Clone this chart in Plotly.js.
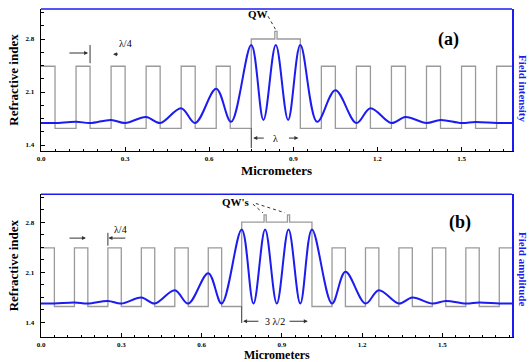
<!DOCTYPE html>
<html><head><meta charset="utf-8">
<script src="https://cdn.plot.ly/plotly-3.0.1.min.js"></script>
<style>html,body{margin:0;padding:0;background:#fff}#plot{width:530px;height:362px}</style>
</head><body><div id="plot"></div>
<script>
// ---- Panel (a): refractive index profile (step boundaries, micrometers) ----
var nxA = [0,0.05,0.125,0.175,0.25,0.3,0.375,0.425,0.5,0.55,0.625,0.675,0.75,0.834,0.842,0.925,1.0,1.05,1.125,1.175,1.25,1.3,1.375,1.425,1.5,1.55,1.625,1.68];
var nvA = [2.44,1.62,2.44,1.62,2.44,1.62,2.44,1.62,2.44,1.62,2.44,1.62,2.8,2.9,2.8,1.62,2.44,1.62,2.44,1.62,2.44,1.62,2.44,1.62,2.44,1.62,2.44,2.44];
// ---- Panel (a): field intensity (extrema) ----
var fxA = [0,0.05,0.125,0.175,0.25,0.3,0.375,0.425,0.5,0.55,0.625,0.678,0.75,0.7935,0.8375,0.8815,0.925,0.985,1.05,1.125,1.175,1.25,1.3,1.375,1.425,1.5,1.55,1.625,1.68];
var fyA = [0,0,0.017,0,0.04,0,0.077,0,0.19,0,0.44,0.015,1.0,0.04,1.0,0.04,1.0,0.015,0.42,0,0.19,0,0.077,0,0.04,0,0.013,0,0];
// ---- Panel (b): refractive index profile ----
var nxB = [0,0.05,0.125,0.175,0.25,0.3,0.375,0.425,0.5,0.55,0.625,0.675,0.75,0.8335,0.8415,0.921,0.929,1.0125,1.0875,1.1375,1.2125,1.2625,1.3375,1.3875,1.4625,1.5125,1.5875,1.6375,1.7125,1.76];
var nvB = [2.44,1.62,2.44,1.62,2.44,1.62,2.44,1.62,2.44,1.62,2.44,1.62,2.8,2.9,2.8,2.9,2.8,1.62,2.44,1.62,2.44,1.62,2.44,1.62,2.44,1.62,2.44,1.62,2.44,2.44];
// ---- Panel (b): field amplitude ----
var fxB = [0,0.05,0.125,0.175,0.25,0.3,0.375,0.425,0.5,0.55,0.625,0.675,0.75,0.794,0.8375,0.881,0.925,0.969,1.0125,1.0875,1.1375,1.2125,1.2625,1.3375,1.3875,1.4625,1.5125,1.5875,1.6375,1.7125,1.76];
var fyB = [0,0,0.014,0,0.035,0,0.081,0,0.18,0,0.41,0,1.0,0,1.0,0,1.0,0,1.0,0,0.43,0,0.18,0,0.081,0,0.035,0,0.014,0,0];
// ---- ticks / labels ----
var xTickStep = 0.3, xMinorStep = 0.05;
var yTickVals = [1.4,2.1,2.8];
var yTickText = ['1.4','2.1','2.8'];
var panelLabels = ['(a)','(b)'];
var xTitle = 'Micrometers';
var yTitle = 'Refractive index';
var y2Titles = ['Field intensity','Field amplitude'];

var SERIF = 'Liberation Serif, Times New Roman, serif';
var GRAY = '#9a9a9a', BLUE = '#1c1cf0';

var traces = [
  {x:nxA, y:nvA, xaxis:'x', yaxis:'y', mode:'lines', line:{shape:'hv', color:GRAY, width:1.3}, hoverinfo:'skip'},
  {x:fxA, y:fyA, xaxis:'x', yaxis:'y2', mode:'lines', line:{shape:'spline', smoothing:1, color:BLUE, width:2}, hoverinfo:'skip'},
  {x:nxB, y:nvB, xaxis:'x2', yaxis:'y3', mode:'lines', line:{shape:'hv', color:GRAY, width:1.3}, hoverinfo:'skip'},
  {x:fxB, y:fyB, xaxis:'x2', yaxis:'y4', mode:'lines', line:{shape:'spline', smoothing:1, color:BLUE, width:2}, hoverinfo:'skip'}
];

function xAx(anchor, maxX, withTitle){
  var a = {anchor:anchor, domain:[0,1], range:[0,maxX], tick0:0, dtick:xTickStep, tickformat:'.1f',
    ticks:'inside', ticklen:4, tickwidth:1, tickcolor:'#000',
    minor:{ticks:'inside', dtick:xMinorStep, ticklen:2.5, tickcolor:'#000'},
    showline:true, linecolor:'#000', linewidth:1.3, showgrid:false, zeroline:false,
    tickfont:{family:SERIF, size:7, color:'#000', weight:'bold'}};
  if (withTitle) a.title = {text:xTitle, font:{family:SERIF, size:13, color:'#000', weight:'bold'}, standoff:4};
  return a;
}
function yAx(anchor, rng, dom){
  return {anchor:anchor, domain:dom, range:rng, tickvals:yTickVals, ticktext:yTickText,
    ticks:'inside', ticklen:4, tickwidth:1, tickcolor:'#000',
    minor:{ticks:'inside', tickvals:[1.575,1.75,1.925,2.275,2.45,2.625,2.975,3.15], ticklen:2.5, tickcolor:'#000'},
    showline:true, linecolor:'#000', linewidth:1.3, showgrid:false, zeroline:false, ticklabelstandoff:4,
    tickfont:{family:SERIF, size:7, color:'#000', weight:'bold'},
    title:{text:yTitle, font:{family:SERIF, size:13, color:'#000', weight:'bold'}, standoff:4}};
}
function y2Ax(over, rng){
  return {overlaying:over, side:'right', range:rng, showline:true, linecolor:BLUE, linewidth:1.5,
    ticks:'', showticklabels:false, showgrid:false, zeroline:false};
}

var layout = {
  width:530, height:362, margin:{l:41, r:18, t:9, b:25},
  paper_bgcolor:'#fff', plot_bgcolor:'#fff', showlegend:false,
  xaxis: xAx('y', 1.68, true),
  yaxis: yAx('x', [1.321, 3.196], [0.567, 1]),
  yaxis2: y2Ax('y', [-0.359, 1.4615]),
  xaxis2: xAx('y3', 1.76, false),
  yaxis3: yAx('x2', [1.194, 3.188], [0, 0.435]),
  yaxis4: y2Ax('y3', [-0.451, 1.473]),
  shapes: [
    {type:'line', xref:'x domain', yref:'y domain', x0:0, x1:1, y0:1, y1:1, line:{color:BLUE, width:1.5}},
    {type:'line', xref:'x2 domain', yref:'y3 domain', x0:0, x1:1, y0:1, y1:1, line:{color:BLUE, width:1.5}},
    // lambda marker (a)
    {type:'line', xref:'x', yref:'y', x0:0.75, x1:0.75, y0:1.62, y1:1.36, line:{color:'#333', width:1}},
    // lambda/4 bar (a)
    {type:'line', xref:'x', yref:'y', x0:0.175, x1:0.175, y0:2.72, y1:2.48, line:{color:'#333', width:1}},
    // 3 lambda/2 marker (b)
    {type:'line', xref:'x2', yref:'y3', x0:0.75, x1:0.75, y0:1.62, y1:1.39, line:{color:'#333', width:1}},
    // lambda/4 bar (b)
    {type:'line', xref:'x2', yref:'y3', x0:0.25, x1:0.25, y0:2.65, y1:2.47, line:{color:'#333', width:1}},
    // QW leaders
    {type:'line', xref:'x', yref:'y', x0:0.81, y0:3.1, x1:0.836, y1:2.93, line:{color:'#333', width:1, dash:'dot'}},
    {type:'line', xref:'x2', yref:'y3', x0:0.792, y0:3.05, x1:0.829, y1:2.93, line:{color:'#333', width:1, dash:'dot'}},
    {type:'line', xref:'x2', yref:'y3', x0:0.803, y0:3.06, x1:0.911, y1:2.93, line:{color:'#333', width:1, dash:'dot'}}
  ],
  annotations: [
    {text:panelLabels[0], xref:'x', yref:'y', x:1.454, y:2.79, showarrow:false, font:{family:SERIF, size:18, color:'#000', weight:'bold'}},
    {text:panelLabels[1], xref:'x2', yref:'y3', x:1.565, y:2.79, showarrow:false, font:{family:SERIF, size:18, color:'#000', weight:'bold'}},
    {text:y2Titles[0], xref:'paper', yref:'paper', x:1.0234, y:0.759, xanchor:'center', yanchor:'middle', textangle:90, showarrow:false, font:{family:SERIF, size:11, color:BLUE, weight:'bold'}},
    {text:y2Titles[1], xref:'paper', yref:'paper', x:1.0234, y:0.207, xanchor:'center', yanchor:'middle', textangle:90, showarrow:false, font:{family:SERIF, size:11, color:BLUE, weight:'bold'}},
    // bottom x title
    {text:xTitle, xref:'paper', yref:'paper', x:0.5, y:-0.0549, xanchor:'center', yanchor:'middle', showarrow:false, font:{family:SERIF, size:12, color:'#000', weight:'bold'}},
    // QW labels
    {text:'QW', xref:'x', yref:'y', x:0.775, y:3.13, showarrow:false, font:{family:SERIF, size:11, color:'#000', weight:'bold'}},
    {text:"QW's", xref:'x2', yref:'y3', x:0.728, y:3.08, showarrow:false, font:{family:SERIF, size:11, color:'#000', weight:'bold'}},
    // lambda/4 (a)
    {text:'λ/4', xref:'x', yref:'y', x:0.302, y:2.747, showarrow:false, font:{family:SERIF, size:10, color:'#000'}},
    {text:'', xref:'x', yref:'y', x:0.168, y:2.615, ax:0.096, ay:2.615, axref:'x', ayref:'y', showarrow:true, arrowhead:2, arrowsize:0.8, arrowwidth:1, arrowcolor:'#333'},
    {text:'', xref:'x', yref:'y', x:0.257, y:2.60, ax:0.28, ay:2.60, axref:'x', ayref:'y', showarrow:true, arrowhead:2, arrowsize:0.8, arrowwidth:1, arrowcolor:'#333'},
    // lambda (a)
    {text:'λ', xref:'x', yref:'y', x:0.836, y:1.492, showarrow:false, font:{family:SERIF, size:10, color:'#000'}},
    {text:'', xref:'x', yref:'y', x:0.757, y:1.492, ax:0.8, ay:1.492, axref:'x', ayref:'y', showarrow:true, arrowhead:2, arrowsize:0.8, arrowwidth:1, arrowcolor:'#333'},
    {text:'', xref:'x', yref:'y', x:0.918, y:1.492, ax:0.879, ay:1.492, axref:'x', ayref:'y', showarrow:true, arrowhead:2, arrowsize:0.8, arrowwidth:1, arrowcolor:'#333'},
    // lambda/4 (b)
    {text:'λ/4', xref:'x2', yref:'y3', x:0.297, y:2.70, showarrow:false, font:{family:SERIF, size:10, color:'#000'}},
    {text:'', xref:'x2', yref:'y3', x:0.168, y:2.576, ax:0.101, ay:2.576, axref:'x2', ayref:'y3', showarrow:true, arrowhead:2, arrowsize:0.8, arrowwidth:1, arrowcolor:'#333'},
    {text:'', xref:'x2', yref:'y3', x:0.252, y:2.576, ax:0.321, ay:2.576, axref:'x2', ayref:'y3', showarrow:true, arrowhead:2, arrowsize:0.8, arrowwidth:1, arrowcolor:'#333'},
    // 3 lambda/2 (b)
    {text:'3 λ/2', xref:'x2', yref:'y3', x:0.874, y:1.414, showarrow:false, font:{family:SERIF, size:10, color:'#000'}},
    {text:'', xref:'x2', yref:'y3', x:0.755, y:1.414, ax:0.818, ay:1.414, axref:'x2', ayref:'y3', showarrow:true, arrowhead:2, arrowsize:0.8, arrowwidth:1, arrowcolor:'#333'},
    {text:'', xref:'x2', yref:'y3', x:0.997, y:1.414, ax:0.923, ay:1.414, axref:'x2', ayref:'y3', showarrow:true, arrowhead:2, arrowsize:0.8, arrowwidth:1, arrowcolor:'#333'}
  ]
};
Plotly.newPlot('plot', traces, layout, {staticPlot:true, displayModeBar:false});
</script></body></html>
